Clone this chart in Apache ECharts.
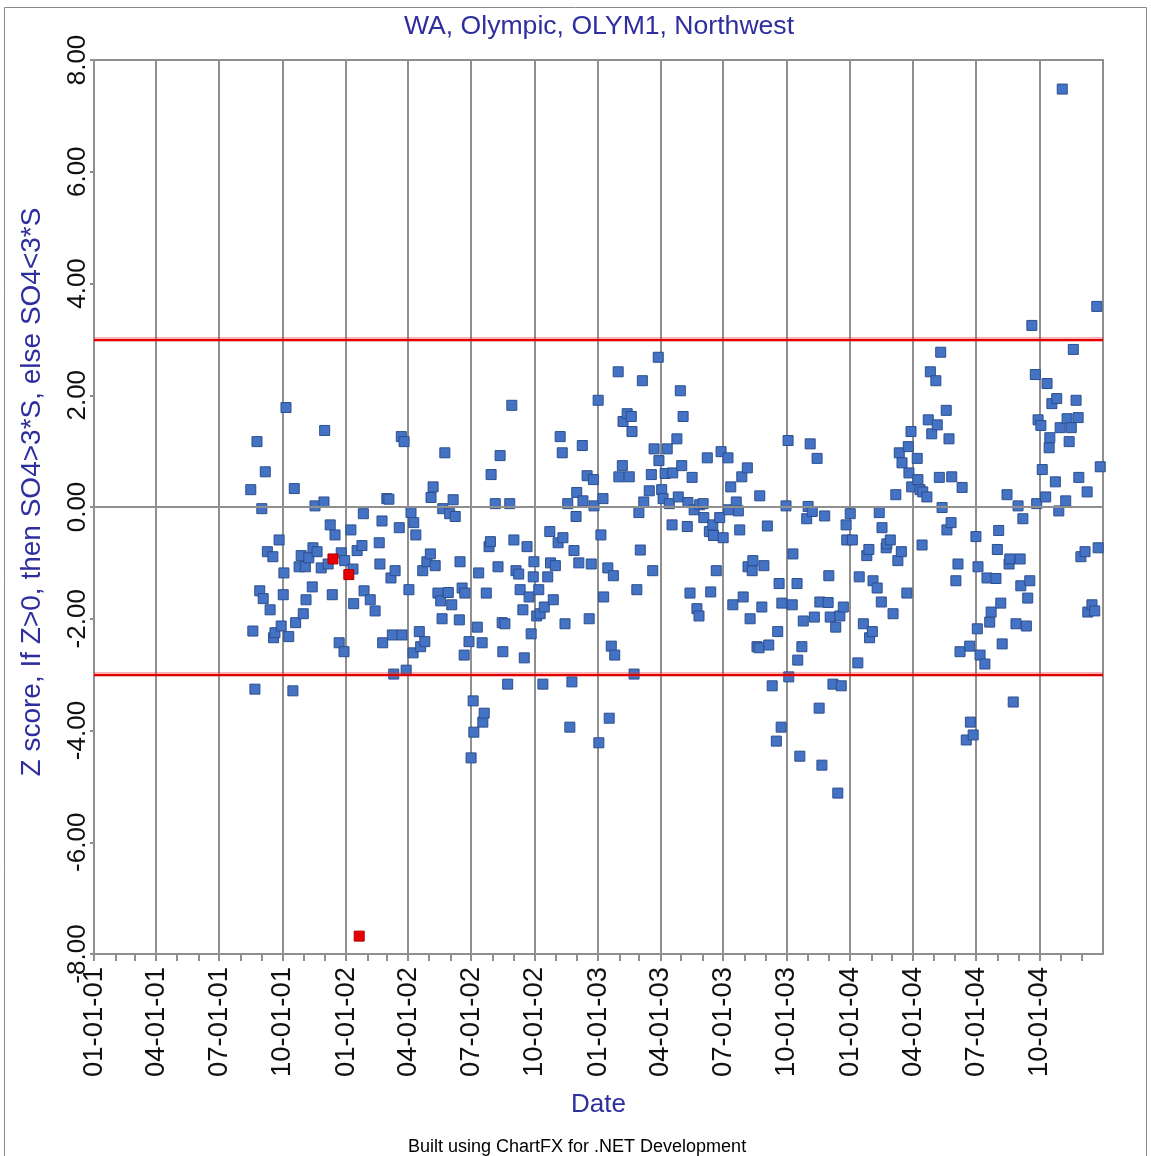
<!DOCTYPE html>
<html><head><meta charset="utf-8">
<script src="https://cdn.jsdelivr.net/npm/echarts@6/dist/echarts.min.js"></script>
<style>html,body{margin:0;padding:0;background:#fff}#chart{width:1151px;height:1156px}</style>
</head><body><div id="chart"></div>
<script>
// sample dates as days since 2001-01-01
const sampleDay = [227,230,233,236,240,243,245,248,251,255,259,260,262,268,271,274,275,278,282,288,290,292,297,300,303,306,307,311,316,317,320,323,329,333,334,339,342,345,349,355,358,362,363,372,375,376,381,388,390,391,
400,407,413,414,417,418,424,427,430,432,434,436,442,445,446,449,452,456,459,462,463,466,471,473,476,479,482,487,488,491,494,498,502,504,505,508,513,515,518,520,523,529,530,533,536,537,543,546,549,550,555,557,562,563,565,568,572,574,575,
581,585,588,591,592,595,599,602,605,608,611,615,617,621,623,627,630,633,636,637,641,644,646,650,652,657,660,661,665,668,672,675,678,679,682,686,689,692,695,698,699,702,707,708,714,717,720,723,724,730,731,734,737,738,744,746,749,752,754,759,760,765,766,772,775,778,779,782,786,789,791,794,796,
804,807,809,811,817,818,822,824,827,830,833,837,838,844,846,849,851,853,859,860,863,866,869,873,876,877,882,883,888,891,893,896,897,901,906,908,911,918,919,922,925,930,933,935,938,940,946,947,950,953,954,960,963,964,967,970,975,977,982,988,990,992,995,996,
1002,1005,1006,1011,1012,1018,1019,1022,1025,1027,1032,1034,1037,1040,1043,1047,1050,1051,1054,1058,1063,1064,1066,1070,1074,1077,1080,1082,1085,1089,1090,1095,1098,1106,1108,1114,1119,1122,1123,1127,1128,1134,1137,1140,1141,1147,1148,1153,1157,1161,1164,1166,1169,1170,1177,1179,1180,1183,1184,1192,1193,1196,1199,1200,
1206,1208,1211,1213,1219,1221,1224,1226,1228,1234,1235,1238,1241,1242,1248,1251,1254,1257,1263,1268,1269,1273,1277,1279,1280,1283,1290,1293,1297,1299,1306,1308,1310,1313,1315,1322,1325,1326,1331,1335,1338,1341,1342,1345,1350,1352,1355,1358,1363,1365,1367,1371,1373,1378,1380,1383,1384,1387,1392,1394,1397,1399,1402,1407,1409,1412,1415,1418,1422,1425,1426,1429,1435,1438,1439,1445,1449,1452,1454,1457];
const zScore = [0.31,-2.22,-3.26,1.17,-1.50,-0.03,-1.64,0.63,-0.80,-1.84,-0.89,-2.34,-2.25,-0.59,-2.13,-1.57,-1.18,1.78,-2.32,-3.29,0.33,-2.07,-1.07,-0.87,-1.91,-1.07,-1.66,-0.91,-1.43,-0.73,0.02,-0.80,-1.09,0.09,1.37,-1.02,-0.32,-1.57,-0.50,-2.43,-0.82,-2.59,-0.96,-0.41,-1.11,-1.73,-0.78,-0.69,-0.12,-1.50,
-1.66,-1.86,-0.64,-1.02,-0.25,-2.43,0.15,0.14,-1.27,-2.29,-2.99,-1.14,-0.37,1.26,-2.29,1.17,-2.92,-1.48,-0.10,-2.61,-0.28,-0.50,-2.23,-2.50,-1.14,-2.41,-0.98,-0.84,0.17,0.36,-1.05,-1.54,-1.68,-2.00,-0.03,0.97,-1.53,-0.12,-1.75,0.13,-0.17,-2.02,-0.98,-1.45,-2.65,-1.54,-2.41,-4.49,-3.47,-4.03,-2.15,-1.18,-2.43,-3.85,-3.69,-1.54,-0.71,-0.62,0.58,
0.06,-1.07,0.92,-2.07,-2.59,-2.09,-3.17,0.06,1.82,-0.59,-1.14,-1.20,-1.48,-1.84,-2.70,-0.71,-1.61,-2.27,-1.25,-0.98,-1.95,-1.48,-1.91,-3.17,-1.79,-1.25,-0.44,-1.00,-1.66,-1.05,-0.64,1.26,0.97,-0.55,-2.09,0.06,-3.94,-3.13,-0.78,-0.17,0.26,-1.00,1.10,0.11,0.56,-2.00,-1.02,0.49,0.02,1.91,-4.22,-0.50,0.15,-1.61,-1.09,-3.78,-2.49,-1.23,-2.65,2.42,0.54,0.74,1.53,1.67,0.54,1.62,1.35,-2.99,-1.48,-0.10,-0.77,2.26,0.09,
0.29,0.58,-1.14,1.04,2.68,0.83,0.31,0.15,0.60,1.04,0.06,-0.32,0.61,1.22,0.18,2.08,0.74,1.62,-0.35,0.08,-1.54,0.53,-0.05,-1.82,-1.95,0.04,0.06,-0.19,0.88,-0.44,-1.52,-0.32,-0.51,-1.14,-0.19,0.99,-0.55,0.88,-0.05,0.36,-1.75,0.09,-0.07,-0.41,0.54,-1.61,0.70,-1.07,-2.00,-1.14,-0.96,-2.50,-2.52,0.20,-1.79,-1.05,-0.34,-2.47,-3.20,-4.19,-2.23,-1.37,-3.94,-1.72,
0.02,1.19,-3.04,-1.75,-0.84,-1.37,-2.74,-4.46,-2.50,-2.04,-0.21,0.01,1.13,-0.08,-1.97,0.87,-3.60,-1.70,-4.62,-0.16,-1.71,-1.23,-1.97,-3.17,-2.15,-5.12,-1.95,-3.20,-1.79,-0.32,-0.59,-0.12,-0.59,-2.79,-1.25,-2.09,-0.87,-0.76,-2.34,-2.23,-1.32,-1.45,-0.10,-1.70,-0.37,-0.73,-0.66,-0.59,-1.91,0.22,-0.96,0.97,-0.80,0.79,-1.54,1.08,0.61,1.35,0.36,0.87,0.49,0.31,-0.68,0.27,
0.18,1.56,2.42,1.31,2.26,1.47,0.53,2.77,-0.01,1.73,-0.41,1.22,-0.28,0.54,-1.32,-1.02,-2.59,0.35,-4.17,-2.49,-3.85,-4.08,-0.53,-2.18,-1.07,-2.65,-2.81,-1.27,-2.06,-1.88,-1.28,-0.76,-0.42,-1.72,-2.45,0.22,-1.02,-0.93,-3.49,-2.09,0.02,-0.93,-1.41,-0.21,-2.13,-1.63,-1.32,3.25,2.37,0.06,1.56,1.46,0.67,0.18,2.21,1.06,1.24,1.85,0.45,1.94,-0.07,1.42,7.48,0.11,1.58,1.17,1.42,2.82,1.91,1.60,0.53,-0.89,-0.80,0.27,-1.88,-1.75,-1.86,3.59,-0.73,0.72];
// samples flagged in red
const flaggedDay = [346, 369, 384];
const flaggedZ = [-0.93, -1.21, -7.68];
const quarterLabels = ['01-01-01','04-01-01','07-01-01','10-01-01','01-01-02','04-01-02','07-01-02','10-01-02','01-01-03','04-01-03','07-01-03','10-01-03','01-01-04','04-01-04','07-01-04','10-01-04'];
const limitZ = [3, -3];

const DAY = 86400000, T0 = Date.UTC(2001, 0, 1);
function labelToDay(s) { const p = s.split('-').map(Number); return Math.round((Date.UTC(2000 + p[2], p[0] - 1, p[1]) - T0) / DAY); }
const quarterDays = quarterLabels.map(labelToDay);
const monthDays = [];
for (let y = 2001; y <= 2004; y++) for (let m = 0; m < 12; m++) monthDays.push(Math.round((Date.UTC(y, m, 1) - T0) / DAY));
const endDay = Math.round((Date.UTC(2005, 0, 1) - T0) / DAY);

const FONT = 'Liberation Sans, Arial, sans-serif';
const NAVY = '#2e2e9e';
const GRIDC = '#8f8f8f';

const chart = echarts.init(document.getElementById('chart'), null, { renderer: 'canvas' });
chart.setOption({
  animation: false,
  backgroundColor: '#fff',
  title: { text: 'WA, Olympic, OLYM1, Northwest', left: 594, top: 8, textAlign: 'center',
    textStyle: { color: NAVY, fontSize: 26.6, fontWeight: 'normal', fontFamily: FONT } },
  grid: { left: 94, right: 48, top: 60, bottom: 202, show: true, borderColor: GRIDC, borderWidth: 2 },
  xAxis: [{
    type: 'value', min: 0, max: endDay, name: 'Date', nameLocation: 'middle', nameGap: 138,
    nameTextStyle: { color: NAVY, fontSize: 26, fontFamily: FONT },
    axisLine: { show: true, lineStyle: { color: GRIDC, width: 2 } },
    axisTick: { show: true, customValues: quarterDays, length: 10, lineStyle: { color: GRIDC, width: 2 } },
    axisLabel: { customValues: quarterDays, rotate: 90, margin: 13, color: '#111', fontSize: 27.5, fontFamily: FONT,
      formatter: v => { const i = quarterDays.indexOf(Math.round(v)); return i >= 0 ? quarterLabels[i] : ''; } },
    splitLine: { show: true, lineStyle: { color: GRIDC, width: 2 } }
  }, {
    type: 'value', min: 0, max: endDay, position: 'bottom',
    axisLine: { show: false },
    axisTick: { show: true, customValues: monthDays, length: 7, lineStyle: { color: GRIDC, width: 2 } },
    axisLabel: { show: false }, splitLine: { show: false }
  }],
  yAxis: {
    type: 'value', min: -8, max: 8, interval: 2,
    name: 'Z score, If Z>0, then SO4>3*S, else SO4<3*S', nameLocation: 'middle', nameGap: 48,
    nameTextStyle: { color: NAVY, fontSize: 28, fontFamily: FONT, padding: [0, 0, 0, 30] },
    axisLine: { show: true, lineStyle: { color: GRIDC, width: 2 } },
    axisTick: { show: true, length: 4, lineStyle: { color: GRIDC, width: 2 } },
    axisLabel: { rotate: 90, margin: 3, color: '#111', fontSize: 26, fontFamily: FONT, formatter: v => v.toFixed(2) },
    splitLine: { show: false }
  },
  graphic: [
    { type: 'rect', shape: { x: 4.5, y: 7.5, width: 1142, height: 1160 }, style: { fill: 'none', stroke: '#8a8a8a', lineWidth: 1 }, silent: true },
    { type: 'text', left: 578 - 170, top: 1138, style: { text: 'Built using ChartFX for .NET Development', fill: '#000', font: '18px ' + FONT }, silent: true }
  ],
  series: [
    { type: 'scatter', data: [], z: 1, silent: true,
      markLine: { silent: true, symbol: ['none', 'none'], label: { show: false },
        data: [{ yAxis: 0, lineStyle: { color: GRIDC, width: 2, type: 'solid' } }] } },
    { type: 'scatter', name: 'Z', z: 3, symbol: 'rect', symbolSize: 10,
      itemStyle: { color: '#4473c5', borderColor: '#2c4e8c', borderWidth: 1, opacity: 1 },
      data: sampleDay.map((d, i) => [d, zScore[i]]) },
    { type: 'scatter', data: [], z: 4, silent: true,
      markLine: { silent: true, symbol: ['none', 'none'], label: { show: false },
        data: limitZ.flatMap(v => [
          { yAxis: v, lineStyle: { color: 'rgba(235,40,40,0.35)', width: 5, type: 'solid' } },
          { yAxis: v, lineStyle: { color: '#e00000', width: 2, type: 'solid' } }]) } },
    { type: 'scatter', name: 'Flagged', z: 5, symbol: 'rect', symbolSize: 10,
      itemStyle: { color: '#e60000', borderColor: '#b00000', borderWidth: 1, opacity: 1 },
      data: flaggedDay.map((d, i) => [d, flaggedZ[i]]) }
  ]
});
</script></body></html>
